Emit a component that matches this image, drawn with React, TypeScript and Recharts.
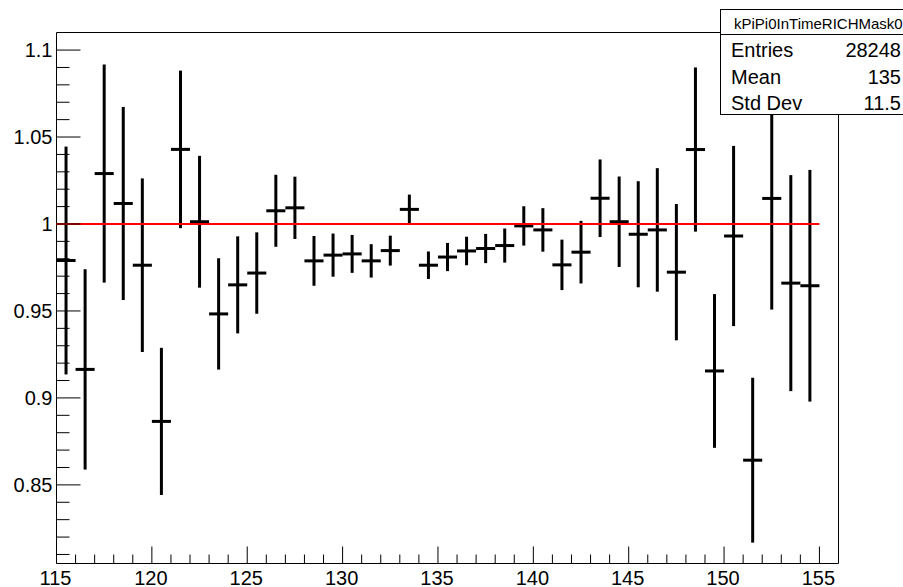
import React from 'react';
import { ComposedChart, Scatter, ErrorBar, XAxis, YAxis, ReferenceLine, ReferenceArea } from 'recharts';

// bin centres (1 unit wide bins from 115 to 155)
const BIN_CENTER = [
  115.5, 116.5, 117.5, 118.5, 119.5, 120.5, 121.5, 122.5, 123.5, 124.5,
  125.5, 126.5, 127.5, 128.5, 129.5, 130.5, 131.5, 132.5, 133.5, 134.5,
  135.5, 136.5, 137.5, 138.5, 139.5, 140.5, 141.5, 142.5, 143.5, 144.5,
  145.5, 146.5, 147.5, 148.5, 149.5, 150.5, 151.5, 152.5, 153.5, 154.5,
];

// bin contents
const RATIO = [
  0.979, 0.9164, 1.029, 1.0118, 0.9763, 0.8865, 1.0429, 1.0013, 0.9483, 0.965,
  0.9718, 1.0076, 1.0093, 0.9788, 0.9821, 0.9828, 0.9788, 0.9847, 1.0084, 0.9763,
  0.981, 0.9845, 0.9859, 0.9876, 0.9989, 0.9966, 0.9765, 0.9838, 1.0148, 1.0013,
  0.9941, 0.9966, 0.9723, 1.0428, 0.9155, 0.9931, 0.8642, 1.0147, 0.966, 0.9645,
];

// bin errors
const RATIO_ERR = [
  0.0655, 0.0576, 0.0627, 0.0555, 0.0499, 0.0423, 0.0453, 0.0379, 0.032, 0.0279,
  0.0234, 0.0207, 0.0179, 0.0143, 0.0124, 0.0109, 0.0096, 0.0086, 0.0085, 0.0079,
  0.0081, 0.0082, 0.0084, 0.0098, 0.0113, 0.0125, 0.0145, 0.018, 0.0223, 0.026,
  0.0305, 0.0355, 0.0392, 0.0472, 0.0442, 0.0518, 0.0474, 0.0639, 0.0621, 0.0666,
];

const BIN_HALF_WIDTH = 0.5;

const X_MIN = 115;
const X_MAX = 156;
const Y_MIN = 0.8048;
const Y_MAX = 1.1101;

// flat fit drawn over the histogram
const FIT_LEVEL = 1;
const FIT_FROM = 115;
const FIT_TO = 155;

const X_TICKS = Array.from({ length: 41 }, (_, i) => 115 + i);
const X_LABELS = [115, 120, 125, 130, 135, 140, 145, 150, 155];

const Y_TICKS = Array.from({ length: 30 }, (_, i) => (81 + i) / 100);
const Y_MAJOR = [0.85, 0.9, 0.95, 1, 1.05, 1.1];
const Y_LABELS = ['0.85', '0.9', '0.95', '1', '1.05', '1.1'];

const STAT_TITLE = 'kPiPi0InTimeRICHMask0';
const STAT_NAMES = ['Entries', 'Mean', 'Std Dev'];
const STAT_VALUES = ['28248', '135', '11.5'];

const FONT = '"Liberation Sans", Arial, Helvetica, sans-serif';

const data = BIN_CENTER.map((x, i) => ({
  x,
  y: RATIO[i],
  err: RATIO_ERR[i],
  half: BIN_HALF_WIDTH,
}));

const XTick = (props: any) => {
  const { x, y, payload } = props;
  const v = payload.value;
  const major = X_LABELS.includes(v);
  return (
    <g>
      <line x1={x} x2={x} y1={y} y2={y - (major ? 17 : 9)} stroke="#000" strokeWidth={1} />
      {major && (
        <text x={x - 1} y={y + 21} textAnchor="middle" fontSize={20} fontFamily={FONT} fill="#000">
          {v}
        </text>
      )}
    </g>
  );
};

const YTick = (props: any) => {
  const { x, y, payload } = props;
  const v = Math.round(payload.value * 100) / 100;
  const idx = Y_MAJOR.indexOf(v);
  const major = idx >= 0;
  return (
    <g>
      <line x1={x} x2={x + (major ? 24 : 13)} y1={y} y2={y} stroke="#000" strokeWidth={1} />
      {major && (
        <text x={x - 4} y={y + 7} textAnchor="end" fontSize={20} fontFamily={FONT} fill="#000">
          {Y_LABELS[idx]}
        </text>
      )}
    </g>
  );
};

const StatBox = () => (
  <svg
    width={903}
    height={587}
    style={{ position: 'absolute', left: 0, top: 0, pointerEvents: 'none' }}
  >
    <rect x={720.5} y={9.5} width={260} height={105} fill="#fff" stroke="#000" strokeWidth={1} />
    <line x1={720.5} x2={903} y1={34.5} y2={34.5} stroke="#000" strokeWidth={1} />
    <text x={734} y={29} fontSize={15} fontFamily={FONT} fill="#000">
      {STAT_TITLE}
    </text>
    {STAT_NAMES.map((name, i) => (
      <g key={name}>
        <text x={731} y={57 + i * 26.5} fontSize={20} fontFamily={FONT} fill="#000">
          {name}
        </text>
        <text x={901} y={57 + i * 26.5} textAnchor="end" fontSize={20} fontFamily={FONT} fill="#000">
          {STAT_VALUES[i]}
        </text>
      </g>
    ))}
  </svg>
);

export default function App() {
  return (
    <div
      style={{
        position: 'absolute',
        left: 0,
        top: 0,
        width: 903,
        height: 587,
        overflow: 'hidden',
        background: '#fff',
      }}
    >
      <ComposedChart
        width={903}
        height={587}
        data={data}
        margin={{ top: 32.5, right: 64.5, bottom: 0, left: 0 }}
      >
        <XAxis
          type="number"
          dataKey="x"
          domain={[X_MIN, X_MAX]}
          ticks={X_TICKS}
          interval={0}
          allowDataOverflow
          height={23.5}
          axisLine={false}
          tickLine={false}
          tickSize={0}
          tickMargin={0}
          tick={<XTick />}
        />
        <YAxis
          type="number"
          dataKey="y"
          domain={[Y_MIN, Y_MAX]}
          ticks={Y_TICKS}
          interval={0}
          allowDataOverflow
          width={56.5}
          axisLine={false}
          tickLine={false}
          tickSize={0}
          tickMargin={0}
          tick={<YTick />}
        />
        <ReferenceArea
          x1={X_MIN}
          x2={X_MAX}
          y1={Y_MIN}
          y2={Y_MAX}
          fill="none"
          fillOpacity={0}
          stroke="#000"
          strokeWidth={1}
          strokeOpacity={1}
        />
        <Scatter dataKey="y" isAnimationActive={false} shape={() => <g />}>
          <ErrorBar dataKey="err" direction="y" width={0} stroke="#000" strokeWidth={3} isAnimationActive={false} />
          <ErrorBar dataKey="half" direction="x" width={0} stroke="#000" strokeWidth={3} isAnimationActive={false} />
        </Scatter>
        <ReferenceLine
          segment={[
            { x: FIT_FROM, y: FIT_LEVEL },
            { x: FIT_TO, y: FIT_LEVEL },
          ]}
          stroke="#ff0000"
          strokeWidth={2}
        />
      </ComposedChart>
      <StatBox />
    </div>
  );
}
